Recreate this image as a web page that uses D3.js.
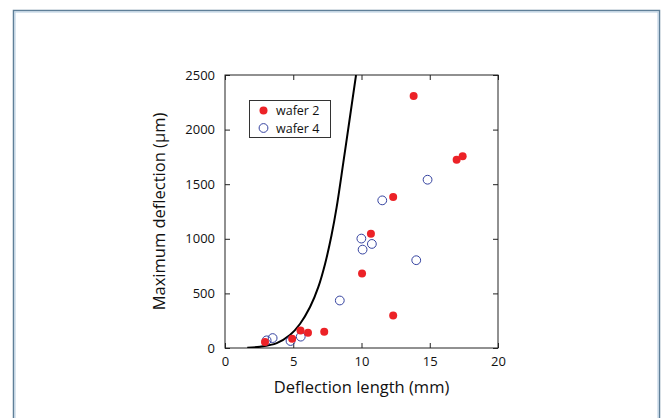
<!DOCTYPE html>
<html>
<head>
<meta charset="utf-8">
<script src="https://cdn.jsdelivr.net/npm/d3@7"></script>
<style>
  html, body { margin: 0; padding: 0; background: #fff; }
  svg { display: block; }
  text { font-family: "Open Sans", "Noto Sans", sans-serif; fill: #111; }
</style>
</head>
<body>
<svg id="chart" width="664" height="418"></svg>
<script>
// Measured maximum deflection vs deflection length
const wafer2Length = [2.93, 4.92, 5.53, 6.08, 7.27, 10.04, 10.69, 12.32, 12.32, 13.82, 16.97, 17.41];
const wafer2Deflection = [55, 85, 161, 140, 149, 682, 1047, 1382, 298, 2308, 1723, 1757];

const wafer4Length = [3.05, 3.49, 4.80, 5.55, 8.41, 9.99, 10.08, 10.76, 11.52, 14.01, 14.84];
const wafer4Deflection = [70, 91, 64, 104, 435, 1002, 901, 953, 1352, 804, 1541];

// Model curve
const modelLength = [1.63, 2.56, 3.79, 4.76, 5.49, 6.23, 6.84, 7.33, 7.80, 8.18, 8.67, 9.16, 9.60];
const modelDeflection = [3, 12, 45, 119, 220, 375, 560, 770, 1030, 1290, 1700, 2120, 2500];

const xTicks = [0, 5, 10, 15, 20];
const yTicks = [0, 500, 1000, 1500, 2000, 2500];
const seriesNames = ["wafer 2", "wafer 4"];

const svg = d3.select("#chart");

// Outer panel frame
svg.append("rect").attr("x", 13.5).attr("y", 10.5).attr("width", 646).attr("height", 420)
  .attr("fill", "#fff").attr("stroke", "#5f7f98").attr("stroke-width", 1.5);
svg.append("rect").attr("x", 15).attr("y", 12).attr("width", 643).attr("height", 420)
  .attr("fill", "none").attr("stroke", "#b4cbe0").attr("stroke-width", 1);

const plotLeft = 225, plotRight = 498, plotTop = 75, plotBottom = 348;
const x = d3.scaleLinear().domain([0, 20]).range([plotLeft, plotRight]);
const y = d3.scaleLinear().domain([0, 2500]).range([plotBottom, plotTop]);

const g = svg.append("g");

// Clip for data inside plot
svg.append("defs").append("clipPath").attr("id", "plotClip")
  .append("rect").attr("x", plotLeft).attr("y", plotTop)
  .attr("width", plotRight - plotLeft).attr("height", plotBottom - plotTop);

// Axes with inward ticks on all four sides
const tickLen = 5;
const fmt = d3.format("d");
const bottomAxis = d3.axisBottom(x).tickValues(xTicks).tickFormat(fmt).tickSizeInner(-tickLen).tickSizeOuter(0).tickPadding(9);
const leftAxis = d3.axisLeft(y).tickValues(yTicks).tickFormat(fmt).tickSizeInner(-tickLen).tickSizeOuter(0).tickPadding(10);
const topAxis = d3.axisTop(x).tickValues(xTicks).tickSizeInner(-tickLen).tickSizeOuter(0).tickFormat("");
const rightAxis = d3.axisRight(y).tickValues(yTicks).tickSizeInner(-tickLen).tickSizeOuter(0).tickFormat("");

function styleAxis(sel) {
  sel.select(".domain").remove();
  sel.selectAll("line").attr("stroke", "#222").attr("stroke-width", 1);
  sel.selectAll("text").style("font-size", "13px").attr("fill", "#111");
}

g.append("g").attr("transform", `translate(0,${plotBottom})`).call(bottomAxis).call(styleAxis);
g.append("g").attr("transform", `translate(${plotLeft},0)`).call(leftAxis).call(styleAxis);
g.append("g").attr("transform", `translate(0,${plotTop})`).call(topAxis).call(styleAxis);
g.append("g").attr("transform", `translate(${plotRight},0)`).call(rightAxis).call(styleAxis);

// Plot box
g.append("rect").attr("x", plotLeft).attr("y", plotTop)
  .attr("width", plotRight - plotLeft).attr("height", plotBottom - plotTop)
  .attr("fill", "none").attr("stroke", "#222").attr("stroke-width", 1);

// Model curve
const line = d3.line().x((d, i) => x(modelLength[i])).y((d, i) => y(modelDeflection[i])).curve(d3.curveCatmullRom);
g.append("path").datum(modelLength).attr("d", line)
  .attr("fill", "none").attr("stroke", "#000").attr("stroke-width", 2)
  .attr("clip-path", "url(#plotClip)");

// Wafer 4 (open circles)
g.append("g").selectAll("circle").data(wafer4Length).join("circle")
  .attr("cx", d => x(d)).attr("cy", (d, i) => y(wafer4Deflection[i])).attr("r", 4.4)
  .attr("fill", "none").attr("stroke", "#3543a0").attr("stroke-width", 1);

// Wafer 2 (filled circles)
g.append("g").selectAll("circle").data(wafer2Length).join("circle")
  .attr("cx", d => x(d)).attr("cy", (d, i) => y(wafer2Deflection[i])).attr("r", 4)
  .attr("fill", "#ec2227");

// Legend
const lg = g.append("g");
lg.append("rect").attr("x", 249.5).attr("y", 100.5).attr("width", 81).attr("height", 37)
  .attr("fill", "#fff").attr("stroke", "#333").attr("stroke-width", 1);
lg.append("circle").attr("cx", 263.5).attr("cy", 110.5).attr("r", 4).attr("fill", "#ec2227");
lg.append("circle").attr("cx", 263.5).attr("cy", 128).attr("r", 4.4).attr("fill", "none")
  .attr("stroke", "#3543a0").attr("stroke-width", 1);
lg.append("text").attr("x", 276).attr("y", 115).style("font-size", "12.5px").text(seriesNames[0]);
lg.append("text").attr("x", 276).attr("y", 132.5).style("font-size", "12.5px").text(seriesNames[1]);

// Axis titles
g.append("text").attr("x", (plotLeft + plotRight) / 2).attr("y", 393).attr("text-anchor", "middle")
  .style("font-size", "16.5px").text("Deflection length (mm)");
g.append("text").attr("transform", `translate(165,${(plotTop + plotBottom) / 2}) rotate(-90)`)
  .attr("text-anchor", "middle").style("font-size", "16.5px").text("Maximum deflection (μm)");
</script>
</body>
</html>
